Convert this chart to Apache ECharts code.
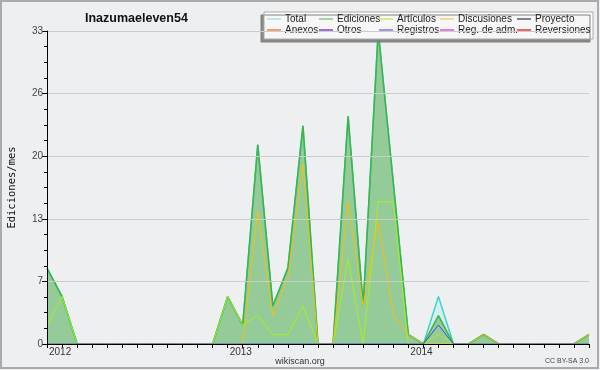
<!DOCTYPE html>
<html>
<head>
<meta charset="utf-8">
<script src="https://cdn.jsdelivr.net/npm/echarts@6/dist/echarts.min.js"></script>
<style>
html,body{margin:0;padding:0;background:#eeeff1}
#main{width:600px;height:370px}
</style>
</head>
<body>
<div id="main"></div>
<script>
var meses = ['2012-01','2012-02','2012-03','2012-04','2012-05','2012-06','2012-07','2012-08','2012-09','2012-10','2012-11','2012-12',
             '2013-01','2013-02','2013-03','2013-04','2013-05','2013-06','2013-07','2013-08','2013-09','2013-10','2013-11','2013-12',
             '2014-01','2014-02','2014-03','2014-04','2014-05','2014-06','2014-07','2014-08','2014-09','2014-10','2014-11','2014-12',
             '2015-01'];
var etiquetas = ['2012', '2013', '2014'];
var total       = [8,5,0,0,0,0,0,0,0,0,0,0, 5,2,21,4,8,23,0,0,24,4,33,17, 1,0,5,0,0,1,0,0,0,0,0,0, 1];
var ediciones   = [8,5,0,0,0,0,0,0,0,0,0,0, 5,2,21,4,8,23,0,0,24,4,33,17, 1,0,3,0,0,1,0,0,0,0,0,0, 1];
var articulos   = [2,5,0,0,0,0,0,0,0,0,0,0, 5,2,3,1,1,4,0,0,9,0,15,15, 0,0,1,0,0,0,0,0,0,0,0,0, 0];
var discusiones = [0,0,0,0,0,0,0,0,0,0,0,0, 0,0,14,3,7,19,0,0,15,4,13,3, 1,0,0,0,0,1,0,0,0,0,0,0, 1];
var registros   = [0,0,0,0,0,0,0,0,0,0,0,0, 0,0,0,0,0,0,0,0,0,0,0,0, 0,0,2,0,0,0,0,0,0,0,0,0, 0];

var leyenda = [
    {name:'Total', color:'#a8e6e4', x:267, y:14},
    {name:'Anexos', color:'#f0834a', x:267, y:25},
    {name:'Ediciones', color:'#86c98c', x:319, y:14},
    {name:'Otros', color:'#8a3fd0', x:319, y:25},
    {name:'Artículos', color:'#c9ee66', x:379, y:14},
    {name:'Registros', color:'#7a78ee', x:379, y:25},
    {name:'Discusiones', color:'#f6d06a', x:440, y:14},
    {name:'Reg. de adm.', color:'#d456e0', x:440, y:25},
    {name:'Proyecto', color:'#5c5c5c', x:517, y:14},
    {name:'Reversiones', color:'#e8383a', x:517, y:25}
];

var myChart = echarts.init(document.getElementById('main'));

var legends = leyenda.map(function (l) {
    return {
        left: l.x,
        top: l.y,
        orient: 'vertical',
        padding: 0,
        z: 6,
        icon: 'rect',
        itemWidth: 14,
        itemHeight: 1.5,
        selectedMode: false,
        textStyle: {fontFamily: 'Liberation Sans', fontSize: 10, color: '#222', padding: [0, 0, 0, -1]},
        data: [{name: l.name, itemStyle: {color: l.color}}]
    };
});

function linea(name, data, color, width) {
    return {
        name: name,
        type: 'line',
        data: data,
        symbol: 'none',
        animation: false,
        lineStyle: {color: color, width: width},
        itemStyle: {color: color}
    };
}

var sTotal = linea('Total', total, '#3fd3cf', 1.5);
sTotal.areaStyle = {color: '#d6eeec', opacity: 1};
var sEd = linea('Ediciones', ediciones, '#3db54a', 1.6);
sEd.areaStyle = {color: '#95cb98', opacity: 1};

var option = {
    backgroundColor: '#eeeff1',
    title: {
        text: 'Inazumaeleven54',
        left: 80,
        top: 7,
        textStyle: {fontFamily: 'Liberation Sans', fontSize: 12.5, fontWeight: 'bold', color: '#111'}
    },
    legend: legends,
    grid: {left: 47, right: 11, top: 31, bottom: 26, outerBoundsMode: 'none', containLabel: false},
    xAxis: {
        type: 'category',
        data: meses,
        boundaryGap: false,
        z: 10,
        axisLine: {lineStyle: {color: '#000', width: 1}},
        axisTick: {show: true, interval: 0, length: 4, lineStyle: {color: '#000'}},
        axisLabel: {
            interval: function (i) { return i % 12 === 0 && i < 36; },
            formatter: function (v, i) { return etiquetas[i / 12]; },
            align: 'left',
            margin: 3,
            padding: [0, 0, 0, 2],
            fontFamily: 'Liberation Sans',
            fontSize: 10,
            color: '#333'
        },
        splitLine: {show: false}
    },
    yAxis: {
        type: 'value',
        min: 0,
        max: 33,
        interval: 6.6,
        name: 'Ediciones/mes',
        nameLocation: 'middle',
        nameRotate: 90,
        nameGap: 29,
        nameTextStyle: {fontFamily: 'DejaVu Sans Mono', fontSize: 10.5, color: '#111'},
        z: 10,
        axisLine: {show: true, lineStyle: {color: '#000', width: 1}},
        axisTick: {show: true, length: 5, lineStyle: {color: '#000'}},
        minorTick: {show: true, splitNumber: 4, length: 3, lineStyle: {color: '#000'}},
        axisLabel: {
            formatter: function (v) { return Math.round(v); },
            margin: 4,
            fontFamily: 'Liberation Sans',
            fontSize: 10,
            color: '#444'
        },
        splitLine: {show: true, lineStyle: {color: '#cccccc', width: 1}}
    },
    graphic: [
        {type: 'rect', z: 0, silent: true, shape: {x: 1, y: 1, width: 597, height: 367},
         style: {fill: 'none', stroke: '#ababab', lineWidth: 2}},
        {type: 'rect', z: 5, silent: true, shape: {x: 264, y: 12, width: 329, height: 27},
         style: {fill: 'rgba(255,255,255,0.93)', stroke: '#aaaaaa', lineWidth: 1,
                 shadowColor: '#808080', shadowBlur: 0, shadowOffsetX: -3, shadowOffsetY: 3}},
        {type: 'text', z: 5, left: 'center', top: 357,
         style: {text: 'wikiscan.org', font: '9px "Liberation Sans"', fill: '#333'}},
        {type: 'text', z: 5, right: 11, top: 358,
         style: {text: 'CC BY-SA 3.0', font: '7px "Liberation Sans"', fill: '#444'}}
    ],
    series: [
        sTotal,
        sEd,
        linea('Artículos', articulos, '#a8ee1e', 1),
        linea('Discusiones', discusiones, '#f0c010', 1),
        linea('Registros', registros, '#3f50ee', 1),
        linea('Anexos', [], '#f0834a', 1),
        linea('Otros', [], '#8a3fd0', 1),
        linea('Reg. de adm.', [], '#d456e0', 1),
        linea('Proyecto', [], '#5c5c5c', 1),
        linea('Reversiones', [], '#e8383a', 1)
    ]
};
myChart.setOption(option);
</script>
</body>
</html>
